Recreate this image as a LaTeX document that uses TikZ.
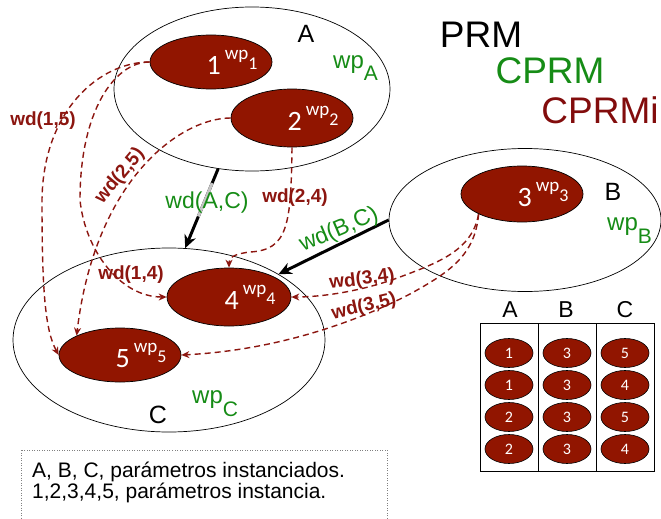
\documentclass[tikz,border=0pt]{standalone}
\usepackage{fontspec}
\setmainfont{Liberation Sans}
\newfontfamily\calib{Carlito}
\usetikzlibrary{positioning, shapes.geometric, arrows.meta, calc}

\definecolor{instred}{RGB}{145,21,0}
\definecolor{wdred}{RGB}{140,22,16}
\definecolor{cgreen}{RGB}{22,140,22}
\definecolor{cprmired}{RGB}{130,12,12}

% instance text: number with raised wp_n
\newcommand{\wpinst}[1]{{\fontsize{28}{28}\selectfont #1}\hspace{4pt}%
  \raisebox{15pt}{\fontsize{19}{19}\selectfont wp\raisebox{-10.5pt}{\fontsize{18}{18}\selectfont #1}}}
\newcommand{\wpset}[1]{\fontsize{24}{24}\selectfont wp\raisebox{-13pt}{\fontsize{21}{21}\selectfont #1}}

\begin{document}
\begin{tikzpicture}[
  x=1pt, y=-1pt,
  >=Stealth,
  setbox/.style={draw, ellipse, fill=white, line width=0.7pt, inner sep=0pt},
  inst/.style={draw=black, ellipse, fill=instred, line width=0.7pt, inner sep=0pt,
               minimum width=122pt},
  insttext/.style={text=white, font=\calib, xshift=21pt},
  cell/.style={draw=black, ellipse, fill=instred, line width=0.6pt, inner sep=0pt,
               minimum width=48pt, minimum height=29pt, text=white,
               font=\calib\fontsize{16}{16}\selectfont},
  wdarrow/.style={wdred, line width=1.4pt, dash pattern=on 6pt off 4pt,
                  -{Stealth[length=8pt, width=7pt]}},
  setarrow/.style={black, line width=3pt, -{Stealth[length=13pt, width=12pt]}},
  wdlabel/.style={wdred, font=\fontsize{19}{19}\selectfont\bfseries, inner sep=0pt},
  cwd/.style={cgreen, font=\fontsize{23}{23}\selectfont, inner sep=0pt},
  setname/.style={font=\fontsize{25}{25}\selectfont, anchor=base, inner sep=0pt}
]
\useasboundingbox (0,0) rectangle (661,519);

% ---- Sets ----
\node[setbox, minimum width=276pt, minimum height=164pt] (A) at (252,89) {};
\node[setbox, minimum width=272pt, minimum height=143pt] (B) at (525,220) {};
\node[setbox, minimum width=312pt, minimum height=184pt] (C) at (169,340) {};

\node[setname] (Aname) at (306,43) {A};
\node[setname] (Bname) at (613,200) {B};
\node[setname] (Cname) at (158,423) {C};

\node[cgreen, anchor=base west, inner sep=0pt] (wpA) at (333,68) {\wpset{A}};
\node[cgreen, anchor=base west, inner sep=0pt] (wpB) at (607,230) {\wpset{B}};
\node[cgreen, anchor=base west, inner sep=0pt] (wpC) at (192,403) {\wpset{C}};

% ---- Instances ----
\node[inst, minimum height=54pt, label={[insttext]center:\wpinst{1}}] (p1) at (211,62) {};
\node[inst, minimum height=58pt, label={[insttext]center:\wpinst{2}}] (p2) at (292,118) {};
\node[inst, minimum height=56pt, label={[insttext]center:\wpinst{3}}] (p3) at (522,194) {};
\node[inst, minimum width=124pt, minimum height=58pt, label={[insttext]center:\wpinst{4}}] (p4) at (229,297) {};
\node[inst, minimum height=54pt, label={[insttext]center:\wpinst{5}}] (p5) at (120,355) {};

% ---- Instance dependencies ----
\draw[wdarrow] (p1.west) .. controls (100,62) and (43,110) .. (42,200)
  .. controls (42,290) and (45,330) .. (p5.west);
\draw[wdarrow] (p1.west) .. controls (115,62) and (80,110) .. (80,200)
  .. controls (85,250) and (120,297) .. (p4.west);
\draw[wdarrow] (p2.west) .. controls (180,118) and (95,180) .. (p5.north west);
\draw[wdarrow] (p2.south) .. controls (291,225) and (288,250) .. (250,252)
  .. controls (233,254) and (229,258) .. (p4.north);
\draw[wdarrow] (p3.south west) .. controls (472,250) and (440,262) .. (400,277)
  .. controls (360,292) and (320,297) .. (p4.east);
\draw[wdarrow] (p3.south west) .. controls (475,255) and (450,272) .. (410,294)
  .. controls (360,320) and (280,350) .. (p5.east);

\node[wdlabel] (l15) at (43,121) {wd(1,5)};
\node[wdlabel, rotate=50] (l25) at (120,176) {wd(2,5)};
\node[wdlabel] (l14) at (131,275) {wd(1,4)};
\node[wdlabel] (l24) at (295,198) {wd(2,4)};
\node[wdlabel, rotate=7] (l34) at (362,280) {wd(3,4)};
\node[wdlabel, rotate=13] (l35) at (364,307) {wd(3,5)};

% ---- Set dependencies ----
\draw[setarrow] (A.-113) -- (C.80);
\draw[gray!45, line width=3pt] ($(A.-113)!0.18!(C.80)$) -- ($(A.-113)!0.6!(C.80)$);
\draw[setarrow] (B.west) -- (C.31);

\node[cwd] (lAC) at (207,203) {wd(A,C)};
\node[cwd, rotate=23] (lBC) at (339,230) {wd(B,C)};

% ---- Titles ----
\node[font=\fontsize{37}{37}\selectfont, anchor=base, inner sep=0pt] (prm) at (481,48) {PRM};
\node[font=\fontsize{37}{37}\selectfont, anchor=base, inner sep=0pt, cgreen] (cprm) at (550,83) {CPRM};
\node[font=\fontsize{37}{37}\selectfont, anchor=base, inner sep=0pt, cprmired] (cprmi) at (600,123) {CPRMi};

% ---- Table of instances ----
\draw[line width=0.8pt] (480,323) rectangle (654,471);
\draw[line width=0.8pt] (538,323) -- (538,471);
\draw[line width=0.8pt] (596,323) -- (596,471);
\node[setname, font=\fontsize{23}{23}\selectfont] (tA) at (510,317) {A};
\node[setname, font=\fontsize{23}{23}\selectfont] (tB) at (566,317) {B};
\node[setname, font=\fontsize{23}{23}\selectfont] (tC) at (625,317) {C};
\foreach \r/\a/\b/\c in {0/1/3/5, 1/1/3/4, 2/2/3/5, 3/2/3/4} {
  \node[cell] (ta\r) at (509, 353+32*\r) {\a};
  \node[cell] (tb\r) at (567, 353+32*\r) {\b};
  \node[cell] (tc\r) at (625, 353+32*\r) {\c};
}

% ---- Note ----
\draw[gray, line width=0.8pt, dash pattern=on 1pt off 1.5pt] (21,450) rectangle (387,530);
\node[anchor=base west, inner sep=0pt, font=\fontsize{21}{21}\selectfont] (note1) at (32,477)
  {A, B, C, parámetros instanciados.};
\node[anchor=base west, inner sep=0pt, font=\fontsize{21}{21}\selectfont] (note2) at (32,498)
  {1,2,3,4,5, parámetros instancia.};

\end{tikzpicture}
\end{document}
